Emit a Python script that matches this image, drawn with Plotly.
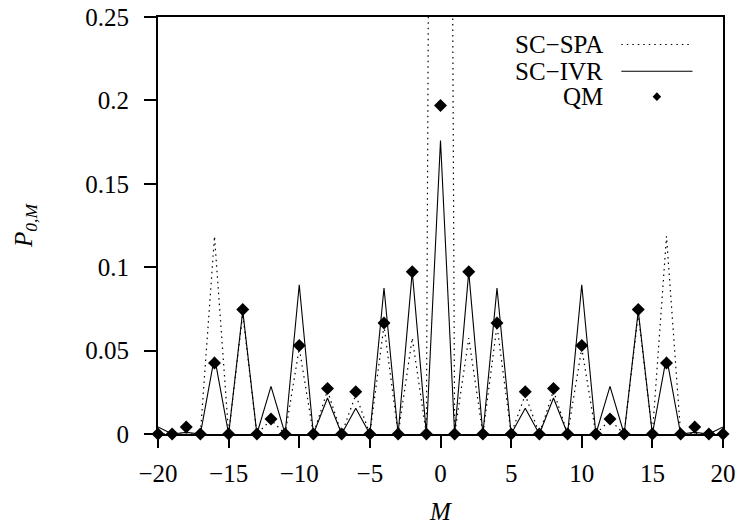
import plotly.graph_objects as go

M = list(range(-20, 21))

qm = [0, 0, 0.0042, 0, 0.0426, 0, 0.0747, 0, 0.0090, 0, 0.0530, 0, 0.0273, 0, 0.0254, 0, 0.0665, 0, 0.0972, 0,
      0.197,
      0, 0.0972, 0, 0.0665, 0, 0.0254, 0, 0.0273, 0, 0.0530, 0, 0.0090, 0, 0.0747, 0, 0.0426, 0, 0.0042, 0, 0]

sc_ivr = [0.0042, 0, 0.0010, 0, 0.0462, 0, 0.0738, 0, 0.0285, 0, 0.0895, 0, 0.0216, 0, 0.0155, 0, 0.0875, 0, 0.0972, 0,
          0.176,
          0, 0.0972, 0, 0.0875, 0, 0.0155, 0, 0.0216, 0, 0.0895, 0, 0.0285, 0, 0.0738, 0, 0.0462, 0, 0.0010, 0, 0.0042]

sc_spa = [0, 0, 0.0003, 0, 0.1185, 0, 0.0720, 0, 0.0085, 0, 0.0515, 0, 0.0260, 0, 0.0235, 0, 0.0650, 0, 0.0575, 0,
          1.85,
          0, 0.0575, 0, 0.0650, 0, 0.0235, 0, 0.0260, 0, 0.0515, 0, 0.0085, 0, 0.0720, 0, 0.1185, 0, 0.0003, 0, 0]

series_names = ["SC\u2212SPA", "SC\u2212IVR", "QM"]
x_ticks = [-20, -15, -10, -5, 0, 5, 10, 15, 20]
y_ticks = [0, 0.05, 0.1, 0.15, 0.2, 0.25]

FONT = "Liberation Serif, Times New Roman, serif"
FS = 25
DOT = "1.5px,4px"

fig = go.Figure()
fig.add_trace(go.Scatter(x=M, y=sc_spa, mode="lines", name=series_names[0],
                         line=dict(color="black", width=1.2, dash=DOT), showlegend=False))
fig.add_trace(go.Scatter(x=M, y=sc_ivr, mode="lines", name=series_names[1],
                         line=dict(color="black", width=1.1), showlegend=False))
fig.add_trace(go.Scatter(x=M, y=qm, mode="markers", name=series_names[2],
                         marker=dict(symbol="diamond", size=10, color="black"),
                         cliponaxis=False, showlegend=False))

# manual gnuplot-style legend (text left, key right)
leg_rows = [0.934, 0.870, 0.809]
text_x = 0.791
key_x0, key_x1 = 0.820, 0.946
annotations = []
shapes = []
for i, name in enumerate(series_names):
    annotations.append(dict(x=text_x, y=leg_rows[i], xref="paper", yref="paper", text=name,
                            showarrow=False, xanchor="right", yanchor="middle",
                            font=dict(family=FONT, size=FS, color="black")))
shapes.append(dict(type="line", xref="paper", yref="paper", x0=key_x0, x1=key_x1,
                   y0=leg_rows[0], y1=leg_rows[0], line=dict(color="black", width=1.2, dash=DOT)))
shapes.append(dict(type="line", xref="paper", yref="paper", x0=key_x0, x1=key_x1,
                   y0=leg_rows[1], y1=leg_rows[1], line=dict(color="black", width=1.1)))
cx, cy = (key_x0 + key_x1) / 2, leg_rows[2]
dx, dy = 0.0075, 0.0105
shapes.append(dict(type="path", xref="paper", yref="paper",
                   path=f"M {cx-dx},{cy} L {cx},{cy+dy} L {cx+dx},{cy} L {cx},{cy-dy} Z",
                   fillcolor="black", line=dict(color="black", width=0)))

fig.update_layout(
    width=744, height=525,
    margin=dict(l=158, r=21, t=17, b=91, autoexpand=False),
    paper_bgcolor="white", plot_bgcolor="white",
    font=dict(family=FONT, size=FS, color="black"),
    annotations=annotations, shapes=shapes,
    showlegend=False,
)
fig.update_xaxes(range=[-20, 20], tickvals=x_ticks, ticks="outside", ticklen=12, tickwidth=2,
                 tickcolor="black", showline=True, linewidth=2, linecolor="black", mirror=True,
                 showgrid=False, zeroline=False, ticklabelstandoff=4, automargin=False,
                 tickfont=dict(family=FONT, size=FS),
                 title=dict(text="<i>M</i>", font=dict(family=FONT, size=FS), standoff=16))
fig.update_yaxes(range=[0, 0.25], tickvals=y_ticks, ticks="outside", ticklen=12, tickwidth=2,
                 tickcolor="black", showline=True, linewidth=2, linecolor="black", mirror=True,
                 showgrid=False, zeroline=False, ticklabelstandoff=10, automargin=False,
                 tickfont=dict(family=FONT, size=FS),
                 title=dict(text="<i>P</i><sub><i>0,M</i></sub>", font=dict(family=FONT, size=FS), standoff=46))

fig.write_html("out.html")
